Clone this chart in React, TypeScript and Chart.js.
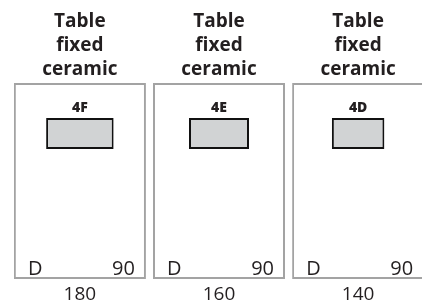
import React, { useEffect, useRef } from "react";
import { Chart, registerables } from "chart.js";

Chart.register(...registerables);

// ---- data ----
const titleLines = ["Table", "fixed", "ceramic"];
const codes = ["4F", "4E", "4D"];
const widths = [180, 160, 140];
const depths = [90, 90, 90];
const depthLabel = "D";

// ---- layout (not data) ----
const W = 422;
const H = 305;
const PX_PER_MM = 0.375;
const X_MAX = W / PX_PER_MM;
const PANEL_FIRST = 213;
const PANEL_PITCH = 371;
const PANEL_HALF = 176;
const PANEL_TOP = 83;
const PANEL_BOTTOM = 279;
const RECT_TOP = 118;
const DEPTH_PX = 31 / 90;
const INK = "#231f20";
const FONT = '"Open Sans", "Noto Sans", sans-serif';

export default function App() {
  const ref = useRef<HTMLCanvasElement>(null);

  useEffect(() => {
    if (!ref.current) return;
    const centers = widths.map((_, i) => PANEL_FIRST + i * PANEL_PITCH);
    const panelY = (PANEL_TOP + PANEL_BOTTOM) / 2;

    const labelPlugin = {
      id: "panelLabels",
      afterDatasetsDraw(chart: any) {
        const { ctx } = chart;
        const x = chart.scales.x;
        const y = chart.scales.y;
        ctx.save();
        ctx.fillStyle = INK;
        ctx.textBaseline = "alphabetic";
        centers.forEach((c, i) => {
          const cx = x.getPixelForValue(c);
          const left = x.getPixelForValue(c - PANEL_HALF);
          const right = x.getPixelForValue(c + PANEL_HALF);
          // title
          ctx.font = `bold 19px ${FONT}`;
          ctx.textAlign = "center";
          titleLines.forEach((t, k) => {
            ctx.fillText(t, cx, y.getPixelForValue(27 + k * 24));
          });
          // code label
          ctx.font = `800 14px ${FONT}`;
          ctx.fillText(codes[i], cx, y.getPixelForValue(RECT_TOP - 6));
          // width below box
          ctx.font = `19px ${FONT}`;
          ctx.fillText(String(widths[i]), cx, y.getPixelForValue(PANEL_BOTTOM + 21));
          // D and depth
          ctx.font = `20px ${FONT}`;
          ctx.textAlign = "left";
          ctx.fillText(depthLabel, left + 14, y.getPixelForValue(PANEL_BOTTOM - 4));
          ctx.textAlign = "right";
          ctx.fillText(String(depths[i]), right - 11, y.getPixelForValue(PANEL_BOTTOM - 4));
        });
        ctx.restore();
      },
    };

    const chart = new Chart(ref.current, {
      type: "bar",
      data: {
        datasets: [
          {
            label: "units",
            data: widths.map((w, i) => ({
              x: [centers[i] - w / 2, centers[i] + w / 2],
              y: RECT_TOP + (depths[i] * DEPTH_PX) / 2,
            })) as any,
            backgroundColor: "#d1d3d4",
            borderColor: "#111111",
            borderWidth: 2,
            borderSkipped: false,
            barThickness: Math.round(depths[0] * DEPTH_PX),
            inflateAmount: 0,
            stack: "s",
            order: 1,
          } as any,
          {
            label: "tables",
            data: widths.map((_, i) => ({
              x: [centers[i] - PANEL_HALF, centers[i] + PANEL_HALF],
              y: panelY,
            })) as any,
            backgroundColor: "#ffffff",
            borderColor: "#a3a3a3",
            borderWidth: 2,
            borderSkipped: false,
            barThickness: PANEL_BOTTOM - PANEL_TOP,
            inflateAmount: 0,
            stack: "s",
            order: 2,
          } as any,
        ],
      },
      options: {
        indexAxis: "y",
        animation: false,
        responsive: false,
        devicePixelRatio: 1,
        events: [],
        layout: { padding: 0 },
        plugins: { legend: { display: false }, tooltip: { enabled: false } },
        scales: {
          x: { type: "linear", min: 0, max: X_MAX, display: false, stacked: false, offset: false, grace: 0 },
          y: { type: "linear", min: 0, max: H, reverse: true, display: false, offset: false, grace: 0 },
        },
      },
      plugins: [labelPlugin],
    });
    return () => chart.destroy();
  }, []);

  return (
    <div style={{ position: "fixed", left: 0, top: 0, width: W, height: H, background: "#fff" }}>
      <canvas ref={ref} width={W} height={H} style={{ display: "block" }} />
    </div>
  );
}
